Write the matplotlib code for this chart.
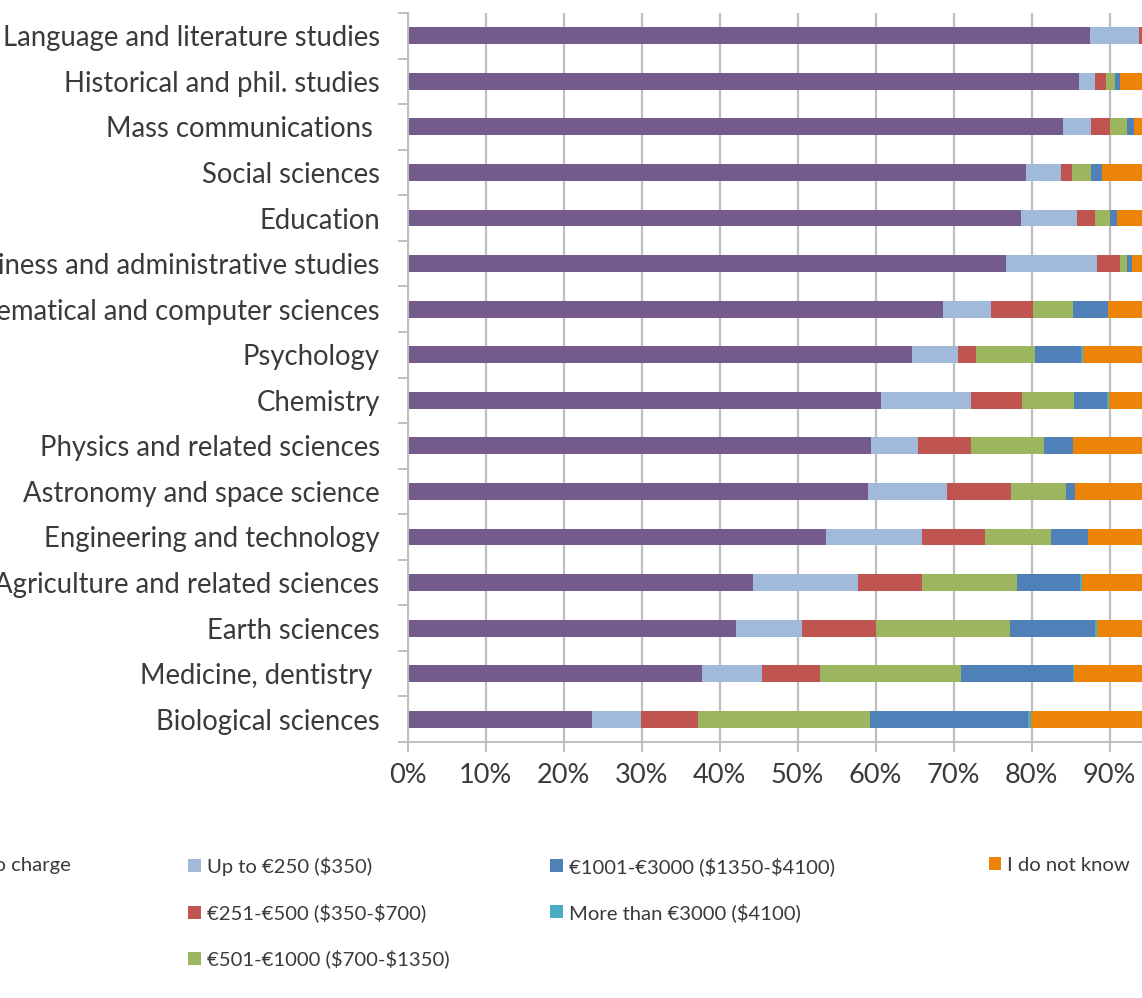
import matplotlib.pyplot as plt
from matplotlib.patches import Patch
import numpy as np

plt.rcParams['font.family'] = ['Lato', 'DejaVu Sans']
plt.rcParams['text.parse_math'] = False

# Data (percent of respondents per field)
categories = [
    'Language and literature studies', 'Historical and phil. studies',
    'Mass communications ', 'Social sciences', 'Education',
    'Business and administrative studies', 'Mathematical and computer sciences',
    'Psychology', 'Chemistry', 'Physics and related sciences',
    'Astronomy and space science', 'Engineering and technology',
    'Agriculture and related sciences', 'Earth sciences',
    'Medicine, dentistry ', 'Biological sciences',
]
no_charge   = [87.5, 86.1, 84.1, 79.3, 78.6, 76.7, 68.6, 64.7, 60.7, 59.4, 59.0, 53.7, 44.3, 42.1, 37.8, 23.7]
up_to_250   = [6.3, 2.1, 3.5, 4.5, 7.2, 11.7, 6.2, 5.9, 11.6, 6.1, 10.2, 12.2, 13.5, 8.5, 7.7, 6.2]
eur_251_500 = [1.2, 1.4, 2.4, 1.4, 2.4, 3.0, 5.4, 2.3, 6.5, 6.7, 8.2, 8.1, 8.2, 9.4, 7.4, 7.3]
eur_501_1000 = [0.8, 1.1, 2.3, 2.4, 1.8, 0.9, 5.1, 7.5, 6.6, 9.4, 7.0, 8.5, 12.1, 17.3, 18.1, 22.1]
eur_1001_3000 = [0.4, 0.6, 0.9, 1.4, 0.9, 0.6, 4.5, 5.9, 4.3, 3.7, 1.2, 4.8, 8.1, 10.9, 14.3, 20.3]
more_3000   = [0.0, 0.0, 0.0, 0.0, 0.0, 0.0, 0.0, 0.3, 0.2, 0.0, 0.0, 0.0, 0.3, 0.2, 0.2, 0.3]
dont_know   = [3.8, 8.7, 6.8, 11.0, 9.1, 7.1, 10.2, 13.4, 10.1, 14.7, 14.4, 12.7, 13.5, 11.6, 14.5, 20.1]

series_names = ['No charge', 'Up to €250 ($350)', '€251-€500 ($350-$700)',
                '€501-€1000 ($700-$1350)', '€1001-€3000 ($1350-$4100)',
                'More than €3000 ($4100)', 'I do not know']
series = [no_charge, up_to_250, eur_251_500, eur_501_1000, eur_1001_3000, more_3000, dont_know]
colors = ['#745B8B', '#A2BAD9', '#BF5450', '#9BB65E', '#4F81B8', '#4BACC6', '#EC8407']
x_ticks = list(range(0, 101, 10))

text_color = '#3A3A3A'
grid_color = '#BFBFBF'

fig = plt.figure(figsize=(11.42, 9.98), dpi=100)
ax = fig.add_axes([407.5 / 1142, 1 - 742 / 998, 780 / 1142, 729 / 998])

y = np.arange(len(categories))
left = np.zeros(len(categories))
for vals, col in zip(series, colors):
    ax.barh(y, vals, left=left, height=0.37, color=col, edgecolor='none', zorder=2)
    left += np.array(vals)

ax.set_xlim(0, 100)
ax.set_ylim(len(categories) - 0.5, -0.5)
ax.set_xticks(x_ticks)
ax.set_xticklabels([f'{t}%' for t in x_ticks])
ax.set_yticks(y)
ax.set_yticklabels(categories)
ax.set_yticks(np.arange(-0.5, len(categories), 1), minor=True)

ax.grid(axis='x', color=grid_color, linewidth=1.6, zorder=0)
ax.set_axisbelow(True)
for s in ['top', 'right']:
    ax.spines[s].set_visible(False)
for s in ['left', 'bottom']:
    ax.spines[s].set_color(grid_color)
    ax.spines[s].set_linewidth(1.4)

ax.tick_params(axis='y', which='major', length=0, pad=20, labelsize=19.8, labelcolor=text_color)
ax.tick_params(axis='y', which='minor', length=7, width=1.4, color=grid_color)
ax.tick_params(axis='x', length=7, width=1.4, color=grid_color, pad=8,
               labelsize=19.5, labelcolor=text_color)

# legend, laid out in columns like the original (the chart is cropped left and right)
handles = [Patch(facecolor=c, edgecolor='none') for c in colors]
columns = [([0], -0.034), ([1, 2, 3], 0.165), ([4, 5], 0.482), ([6], 0.866)]
for idx, xpos in columns:
    leg = fig.legend([handles[i] for i in idx], [series_names[i] for i in idx],
                     loc='upper left', bbox_to_anchor=(xpos, 1 - 857 / 998),
                     frameon=False, fontsize=14.6, handlelength=0.6, handleheight=0.6,
                     handletextpad=0.3, labelspacing=1.35, borderpad=0, borderaxespad=0)
    for t in leg.get_texts():
        t.set_color(text_color)

plt.savefig('out.png', dpi=100)
